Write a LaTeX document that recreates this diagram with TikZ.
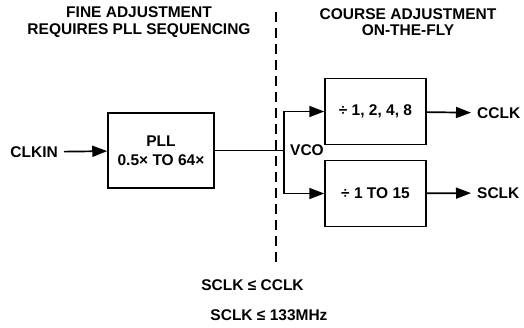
\documentclass[tikz,border=0pt]{standalone}
\usepackage{fontspec}
\setmainfont{Liberation Sans}
\usetikzlibrary{arrows.meta,positioning}
\newcommand\lblfont{\fontsize{15.5}{16.5}\selectfont\bfseries}

\begin{document}
\begin{tikzpicture}[
  x=1pt, y=-1pt,
  pllbox/.style={rectangle, draw, line width=1.5pt,
    minimum width=106pt, minimum height=75pt,
    align=center, font=\lblfont, inner sep=0pt},
  divbox/.style={rectangle, draw, line width=1.5pt,
    minimum width=101pt, minimum height=66pt,
    align=center, font=\lblfont, inner sep=0pt},
  signal/.style={font=\lblfont, inner ysep=0pt, inner xsep=6pt},
  heading/.style={font=\lblfont, align=center, inner sep=0pt},
  arrow/.style={-{Triangle[length=15pt,width=11pt]}, line width=1.7pt},
  wire/.style={line width=1.7pt},
  border/.style={dash pattern=on 10pt off 6pt, line width=1.6pt}
]
\useasboundingbox (0,0) rectangle (524,328);

% Headings
\node[heading] (fine) at (139,22)
  {FINE ADJUSTMENT\\REQUIRES PLL SEQUENCING};
\node[heading] (course) at (408,22)
  {COURSE ADJUSTMENT\\ON-THE-FLY};

% Nodes
\node[pllbox] (pll) at (161,150.5) {PLL\\[2pt]0.5× TO 64×};
\node[divbox] (div1) at (375.5,111.5) {÷ 1, 2, 4, 8};
\node[divbox] (div2) at (375.5,193.5) {÷ 1 TO 15};
\node[signal, anchor=east] (clkin) at (64,152) {CLKIN};
\node[signal, anchor=west] (cclk) at (471,113) {CCLK};
\node[signal, anchor=west] (sclk) at (471,193) {SCLK};
\coordinate (vco) at (284,150.5);
\node[signal, inner xsep=0pt, right=6pt of vco] (vcolbl) {VCO};

% Boundary
\coordinate (top) at (276,12);
\coordinate (bot) at (276,265);
\draw[border] (top) -- (bot);

% Arrows
\draw[arrow] (clkin) -- (pll);
\draw[wire] (pll.east) -- (vco);
\draw[arrow] (vco) |- (div1.west);
\draw[arrow] (vco) |- (div2.west);
\draw[arrow] (div1) -- (cclk);
\draw[arrow] (div2) -- (sclk);

% Limits
\node[heading] (lim1) at (252.5,285) {SCLK ≤ CCLK};
\node[heading] (lim2) at (269,315) {SCLK ≤ 133MHz};
\end{tikzpicture}
\end{document}
